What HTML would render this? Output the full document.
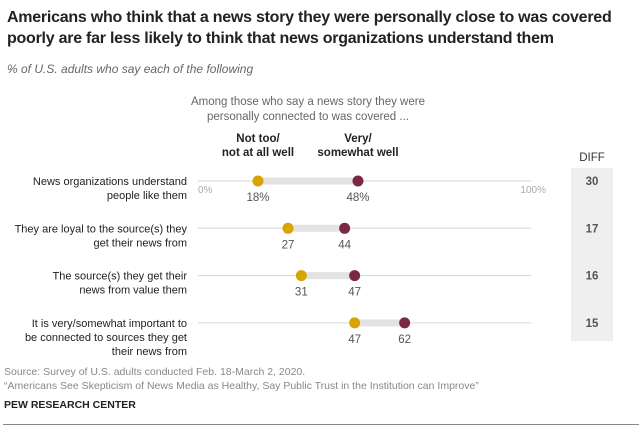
<!DOCTYPE html>
<html><head><meta charset="utf-8"><style>
body{margin:0;width:639px;height:430px;background:#fff;font-family:"Liberation Sans",sans-serif;overflow:hidden;position:relative}
.t{position:absolute;white-space:nowrap}
</style></head><body>
<div class="t" style="left:7px;top:7px;font-size:16px;font-weight:bold;line-height:21px;color:#222;letter-spacing:-0.25px">Americans who think that a news story they were personally close to was covered<br>poorly are far less likely to think that news organizations understand them</div>
<div class="t" style="left:7px;top:62px;font-size:12px;font-style:italic;color:#666">% of U.S. adults who say each of the following</div>
<div class="t" style="left:188px;top:95px;width:240px;text-align:center;font-size:11.5px;color:#666;line-height:15px;white-space:normal">Among those who say a news story they were personally connected to was covered ...</div>
<svg id="c" width="639" height="430" style="position:absolute;left:0;top:0"></svg>
<div class="t" style="left:4px;top:365px;font-size:10.5px;color:#888;line-height:14px">Source: Survey of U.S. adults conducted Feb. 18-March 2, 2020.<br>“Americans See Skepticism of News Media as Healthy, Say Public Trust in the Institution can Improve”</div>
<div class="t" style="left:4px;top:399px;font-size:10.5px;font-weight:bold;color:#222">PEW RESEARCH CENTER</div>
<div style="position:absolute;left:3px;top:424px;width:636px;height:1px;background:#888"></div>
<script>
const categories=[["News organizations understand","people like them"],["They are loyal to the source(s) they","get their news from"],["The source(s) they get their","news from value them"],["It is very/somewhat important to","be connected to sources they get","their news from"]];
const notWell=[18,27,31,47];
const veryWell=[48,44,47,62];
const diffs=[30,17,16,15];
const svg=document.getElementById('c');const NS='http://www.w3.org/2000/svg';
const x=v=>198+v*3.333;const rowY=i=>181+i*47.3;
function mk(t,a,txt){const e=document.createElementNS(NS,t);for(const k in a)e.setAttribute(k,a[k]);if(txt!=null)e.textContent=txt;svg.appendChild(e);return e;}
let r=mk('rect',{x:571,y:168,width:42,height:173,fill:'#efefef'});


let d=mk('text',{x:592,y:161,'text-anchor':'middle','font-size':11.5,fill:'#333'},'DIFF');


[["Not too/","not at all well",258],["Very/","somewhat well",358]].forEach((l,j)=>{
 let t=mk('text',{x:l[2],y:142,'text-anchor':'middle','font-size':11.5,'font-weight':'bold',fill:'#222'});
 
 
 [l[0],l[1]].forEach((s,k)=>{const ts=document.createElementNS(NS,'tspan');ts.setAttribute('x',l[2]);ts.setAttribute('dy',k?14:0);ts.textContent=s;t.appendChild(ts);});
});
categories.forEach((c,i)=>{
 const y=rowY(i);
 let ln=mk('line',{x1:x(0),x2:x(100),y1:y,y2:y,stroke:'#d6d6d6','stroke-width':1});
 
 
 let b=mk('line',{x1:x(notWell[i]),x2:x(veryWell[i]),y1:y,y2:y,stroke:'#e3e3e3','stroke-width':7});
 
 
 const lab=mk('text',{'text-anchor':'end','font-size':11,fill:'#222'});
 
 
 c.forEach((s,k)=>{const ts=document.createElementNS(NS,'tspan');ts.setAttribute('x',187);ts.setAttribute('y',y+4+k*14);ts.textContent=s;lab.appendChild(ts);});
 const sfx=i==0?'%':'';
 let p1=mk('circle',{cx:x(notWell[i]),cy:y,r:5.5,fill:'#d8a500'});
 
 
 let p2=mk('circle',{cx:x(veryWell[i]),cy:y,r:5.5,fill:'#7a2940'});
 
 
 let v1=mk('text',{x:x(notWell[i]),y:y+20,'text-anchor':'middle','font-size':11.5,fill:'#555'},notWell[i]+sfx);
 
 
 let v2=mk('text',{x:x(veryWell[i]),y:y+20,'text-anchor':'middle','font-size':11.5,fill:'#555'},veryWell[i]+sfx);
 
 
 let dv=mk('text',{x:592,y:y+4,'text-anchor':'middle','font-size':11.5,'font-weight':'bold',fill:'#555'},diffs[i]);
 
 
});
let a0=mk('text',{x:198,y:193,'font-size':10,fill:'#aaa'},'0%');


let a1=mk('text',{x:546,y:193,'text-anchor':'end','font-size':10,fill:'#aaa'},'100%');


</script>
</body></html>
